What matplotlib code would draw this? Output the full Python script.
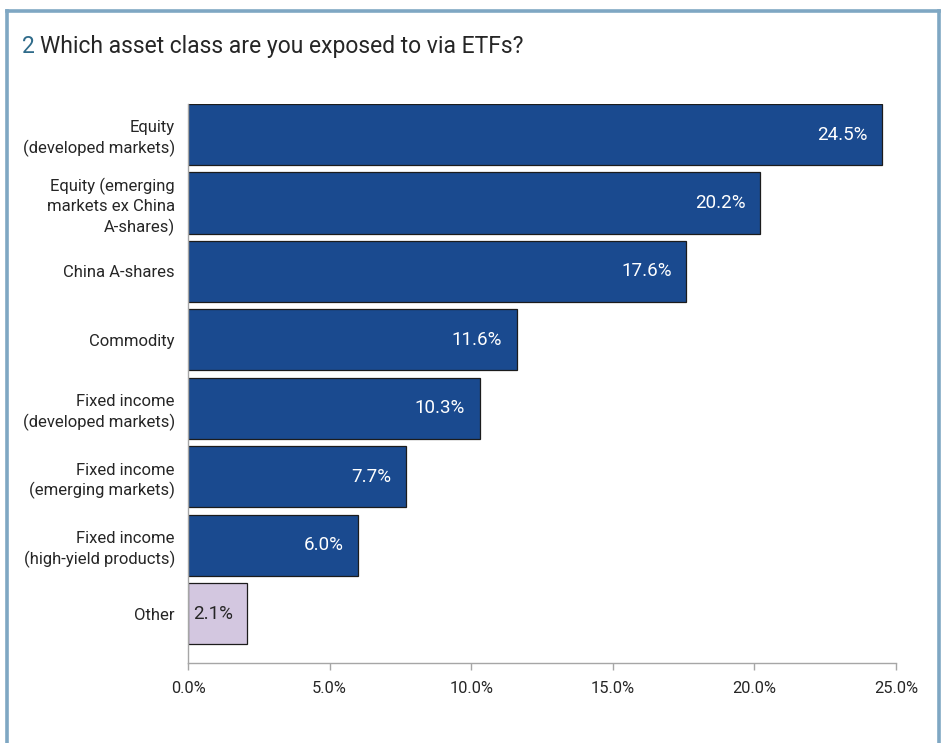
import matplotlib
matplotlib.use("Agg")
import matplotlib.pyplot as plt
from matplotlib.lines import Line2D
from matplotlib.ticker import FuncFormatter

# Survey results: share of respondents by ETF asset class exposure
categories = [
    "Equity\n(developed markets)",
    "Equity (emerging\nmarkets ex China\nA-shares)",
    "China A-shares",
    "Commodity",
    "Fixed income\n(developed markets)",
    "Fixed income\n(emerging markets)",
    "Fixed income\n(high-yield products)",
    "Other",
]
shares = [24.5, 20.2, 17.6, 11.6, 10.3, 7.7, 6.0, 2.1]
x_ticks = [0, 5, 10, 15, 20, 25]

title_number = "2"
title_text = "Which asset class are you exposed to via ETFs?"

NAVY = "#1A4A8F"
LAVENDER = "#D3C7E0"
TEXT = "#262626"
FRAME = "#7FA7C3"
AXIS_GREY = "#A6A6A6"

plt.rcParams["font.family"] = ["Roboto", "DejaVu Sans"]

W, H = 941, 743
fig = plt.figure(figsize=(W / 100, H / 100), dpi=100)
fig.patch.set_facecolor("white")

# Frame around the panel (open at the bottom)
fx0, fx1, fy = 6.5 / W, 938.5 / W, 1 - 11 / H
for xs, ys in [([fx0, fx0], [0, fy]), ([fx0, fx1], [fy, fy]), ([fx1, fx1], [fy, 0])]:
    fig.add_artist(Line2D(xs, ys, transform=fig.transFigure, color=FRAME, lw=2.6,
                          solid_capstyle="projecting"))

ax = fig.add_axes([188 / W, 1 - 663 / H, (896 - 188) / W, (663 - 104) / H])

ypos = list(range(len(categories)))
colors = [NAVY] * (len(categories) - 1) + [LAVENDER]
bar_h = 0.892
ax.barh(ypos, shares, height=bar_h, color=colors, edgecolor="#1c1c1c", linewidth=0.9)

ax.set_xlim(0, 25)
ax.set_ylim(len(categories) - 1 + bar_h / 2 + 0.273, -bar_h / 2)
ax.set_yticks(ypos)
ax.set_yticklabels(categories, fontsize=12, color=TEXT, ha="right",
                   multialignment="right", linespacing=1.33)
ax.tick_params(axis="y", length=0, pad=9.5)
ax.set_xticks(x_ticks)
ax.xaxis.set_major_formatter(FuncFormatter(lambda v, p: f"{v:.1f}%"))
ax.tick_params(axis="x", length=5, width=1, color=AXIS_GREY, labelsize=11.8, labelcolor=TEXT, pad=8)

for s in ("top", "right"):
    ax.spines[s].set_visible(False)
for s in ("left", "bottom"):
    ax.spines[s].set_color(AXIS_GREY)
    ax.spines[s].set_linewidth(1)

# Value labels at the inner end of each bar
for y, v, c in zip(ypos, shares, colors):
    ax.annotate(f"{v:.1f}%", xy=(v, y), xytext=(-10.5, 0), textcoords="offset points",
                ha="right", va="center", fontsize=13.5,
                color="white" if c == NAVY else TEXT)

# Title: coloured chart number followed by the question
t1 = fig.text(22 / W, 1 - 53 / H, title_number, fontsize=16.5, color="#2F6B8A", va="baseline", ha="left")
fig.canvas.draw()
bb = t1.get_window_extent()
fig.text((bb.x1 + 5) / W, 1 - 53 / H, title_text, fontsize=16.5, color=TEXT, va="baseline", ha="left")

fig.savefig("out.png", dpi=100, facecolor="white")
